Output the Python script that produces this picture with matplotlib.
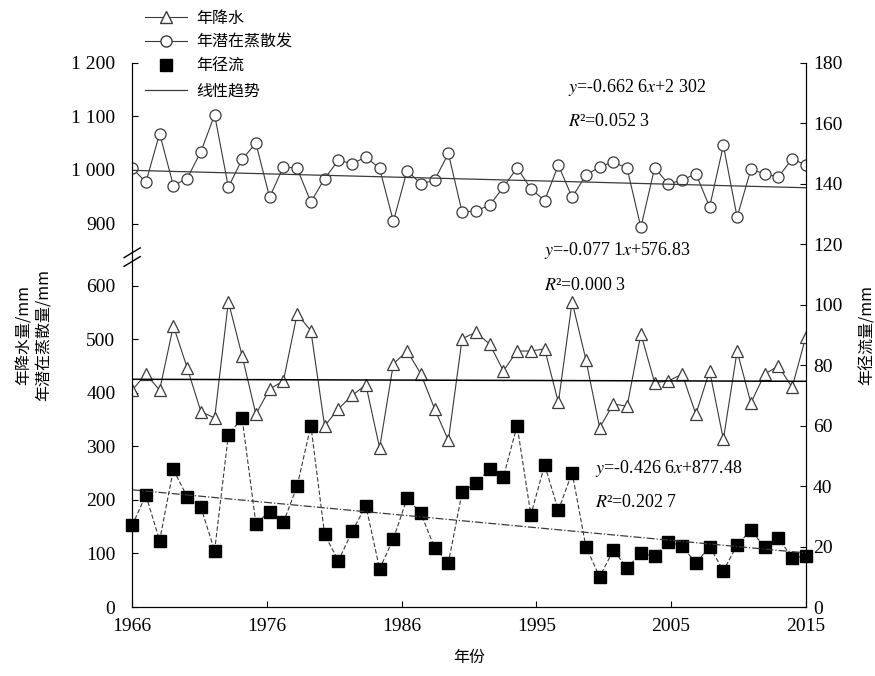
import numpy as np
import matplotlib
matplotlib.use('Agg')
import matplotlib.pyplot as plt
from matplotlib.lines import Line2D

plt.rcParams['font.family'] = ['Liberation Serif', 'Noto Sans CJK SC', 'DejaVu Sans']
plt.rcParams['axes.unicode_minus'] = False
plt.rcParams['mathtext.fontset'] = 'stix'
CJK = ['Noto Sans CJK SC', 'DejaVu Sans']

# 年份
years = list(range(1966, 2016))

# 年降水 (mm)
precip = [405, 435, 405, 525, 447, 365, 353, 570, 469, 360,
          407, 422, 547, 516, 338, 370, 395, 415, 297, 454,
          478, 435, 370, 311, 501, 513, 491, 441, 478, 478,
          482, 382, 570, 462, 335, 379, 375, 510, 419, 422,
          435, 360, 441, 313, 478, 381, 435, 450, 410, 505]

# 年潜在蒸散发 (mm)
evap = [1004, 977, 1068, 971, 984, 1034, 1103, 968, 1020, 1050,
        949, 1006, 1003, 940, 984, 1018, 1012, 1024, 1003, 904,
        999, 974, 981, 1031, 921, 924, 934, 968, 1004, 965,
        943, 1009, 949, 990, 1006, 1015, 1003, 893, 1004, 974,
        981, 993, 931, 1046, 912, 1001, 993, 987, 1021, 1009]

# 年径流 (mm, 右轴)
runoff = [27, 37, 22, 45.5, 36.5, 33, 18.6, 57, 62.5, 27.6,
          31.6, 28, 40, 60, 24, 15.3, 25, 33.5, 12.6, 22.6,
          36, 31, 19.6, 14.6, 38, 41, 45.5, 43, 60, 30.5,
          47, 32, 44.5, 20, 10, 18.8, 13, 17.8, 16.8, 21.6,
          20.2, 14.5, 20, 12, 20.5, 25.5, 19.8, 22.8, 16.3, 16.8]

# 线性趋势 y = a*x + b
slopes = [-0.6626, -0.0771, -0.4266]
intercepts = [2302, 576.83, 877.48]
eq_texts = [r'$\mathit{y}$=-0.662 6$\mathit{x}$+2 302',
            r'$\mathit{y}$=-0.077 1$\mathit{x}$+576.83',
            r'$\mathit{y}$=-0.426 6$\mathit{x}$+877.48']
r2_texts = [r'$\mathit{R}$²=0.052 3', r'$\mathit{R}$²=0.000 3', r'$\mathit{R}$²=0.202 7']

left_ticks = [0, 100, 200, 300, 400, 500, 600, 900, 1000, 1100, 1200]
left_labels = ['0', '100', '200', '300', '400', '500', '600', '900', '1 000', '1 100', '1 200']
right_ticks = [0, 20, 40, 60, 80, 100, 120, 140, 160, 180]
x_ticks = np.linspace(1966, 2015, 6)
x_labels = ['1966', '1976', '1986', '1995', '2005', '2015']


# 断轴: 650~850 压缩
def fwd(v):
    v = np.asarray(v, dtype=float)
    return np.where(v <= 650, v,
                    np.where(v >= 850, v - 184, 650 + (v - 650) * 16 / 200))


def inv(u):
    u = np.asarray(u, dtype=float)
    return np.where(u <= 650, u,
                    np.where(u >= 666, u + 184, 650 + (u - 650) * 200 / 16))


fig = plt.figure(figsize=(8.75, 6.76), dpi=100)
ax = fig.add_axes([0.151, 0.102, 0.770, 0.805])
ax.set_yscale('function', functions=(fwd, inv))
ax2 = ax.twinx()

lc = '#3a3a3a'
ax.plot(years, precip, '-', color=lc, lw=0.8, marker='^', ms=8,
        mfc='white', mec=lc, mew=0.9)
ax.plot(years, evap, '-', color=lc, lw=0.8, marker='o', ms=8,
        mfc='white', mec=lc, mew=0.9)
ax2.plot(years, runoff, '--', color=lc, lw=0.8, dashes=(4, 2))
ax2.plot(years, runoff, 's', color='black', ms=8.5, clip_on=False)

yrs = np.array([years[0], years[-1]])
ax.plot(yrs, slopes[0] * yrs + intercepts[0], '-', color=lc, lw=0.9)
ax.plot(yrs, slopes[1] * yrs + intercepts[1], '-', color='black', lw=1.1)
ax2.plot(yrs, slopes[2] * yrs + intercepts[2], '-.', color=lc, lw=0.9)

ax.set_xlim(1966, 2015)
ax.set_ylim(0, 1200)
ax2.set_ylim(0, 180)
ax.set_xticks(x_ticks)
ax.set_xticklabels(x_labels)
ax.set_yticks(left_ticks)
ax.set_yticklabels(left_labels)
ax.minorticks_off()
ax2.set_yticks(right_ticks)

for a in (ax, ax2):
    a.spines['top'].set_visible(False)
    a.tick_params(direction='in', length=4, labelsize=14)
ax.tick_params(axis='x', pad=8)
ax.tick_params(axis='y', pad=12)
ax2.tick_params(axis='y', pad=5)

# 断轴标记
for dy in (-0.008, 0.008):
    ax.plot([-0.012, 0.012], [0.634 + dy, 0.652 + dy], transform=ax.transAxes,
            color='black', lw=1.0, clip_on=False)

ax.set_xlabel('年份', family=CJK, fontsize=11.5, labelpad=10)
ax.set_ylabel('年降水量/mm\n年潜在蒸散量/mm', family=CJK, fontsize=11.5, labelpad=14)
ax2.set_ylabel('年径流量/mm', family=CJK, fontsize=11.5, labelpad=12)

# 趋势方程
eq_pos = [(0.647, 0.955, 0.892), (0.612, 0.655, 0.590), (0.687, 0.255, 0.192)]
for (x0, y1, y2), e, r in zip(eq_pos, eq_texts, r2_texts):
    ax.text(x0, y1, e, transform=ax.transAxes, fontsize=13, va='center')
    ax.text(x0, y2, r, transform=ax.transAxes, fontsize=13, va='center')

handles = [
    Line2D([], [], color=lc, lw=0.8, marker='^', ms=8, mfc='white', mec=lc),
    Line2D([], [], color=lc, lw=0.8, marker='o', ms=8, mfc='white', mec=lc),
    Line2D([], [], ls='none', marker='s', ms=8.5, color='black'),
    Line2D([], [], color=lc, lw=0.9),
]
labels = ['年降水', '年潜在蒸散发', '年径流', '线性趋势']
fig.legend(handles, labels, loc='upper left', bbox_to_anchor=(0.155, 1.0),
           frameon=False, prop={'family': CJK, 'size': 11.5},
           handlelength=2.6, labelspacing=0.45, borderaxespad=0.2, handletextpad=0.6)

fig.savefig('out.png', dpi=100)
